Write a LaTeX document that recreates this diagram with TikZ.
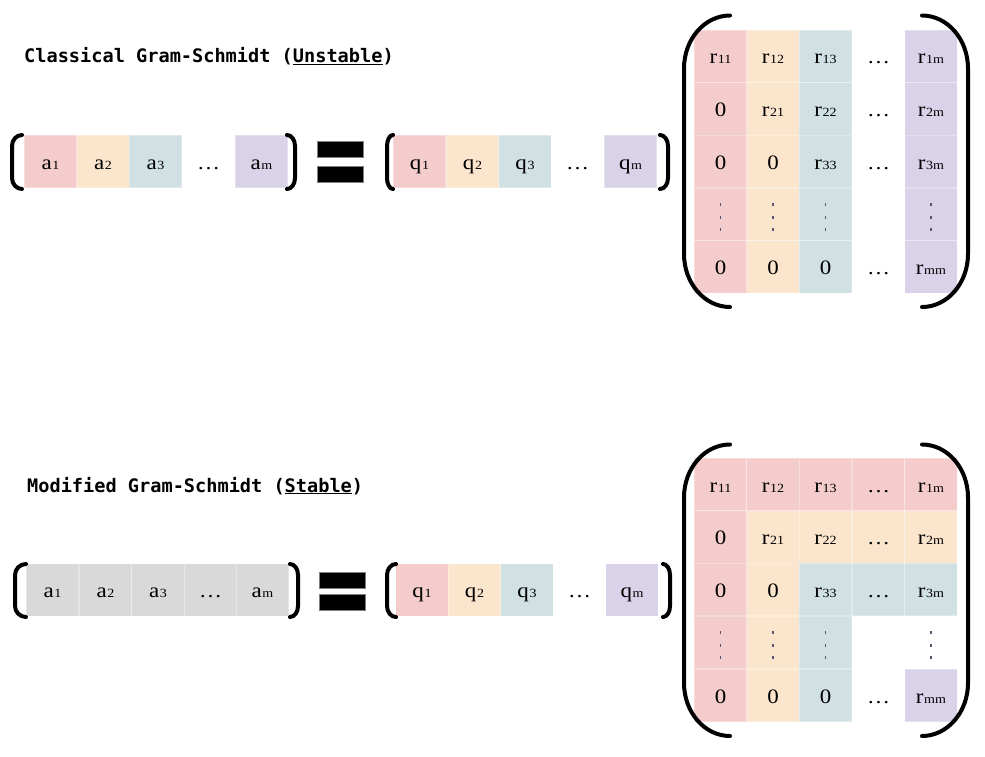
\documentclass[tikz,border=0pt]{standalone}
\usepackage{fontspec}
\setmainfont{Liberation Serif}
\newfontfamily\cellfont{Liberation Serif}[FakeStretch=1.12]
\newfontfamily\monob{DejaVu Sans Mono}
\definecolor{cr}{HTML}{F4CCCC}
\definecolor{co}{HTML}{FCE5CD}
\definecolor{cb}{HTML}{D0E0E3}
\definecolor{cp}{HTML}{D9D2E9}
\definecolor{cg}{HTML}{D9D9D9}
\definecolor{dotc}{HTML}{5A5570}
\newcommand\sbs[1]{{\fontsize{12.5}{12.5}\selectfont\kern0.6pt#1}}
% #1 end x, #2 extreme x, #3 top y, #4 bottom y, #5 corner height
\newcommand\brkpath[5]{%
  \draw[brk] (#1,#3) .. controls ({#1-0.552*(#1-#2)},#3) and (#2,{#3+0.448*#5}) .. (#2,{#3+#5})
    -- (#2,{#4-#5}) .. controls (#2,{#4-0.448*#5}) and ({#1-0.552*(#1-#2)},#4) .. (#1,#4);}
\newcommand\vdts[2]{%
  \fill[dotc] ({#1-0.6},{#2-11.2}) rectangle ++(1.2,2.5);
  \fill[dotc] ({#1-0.6},{#2+1.8}) rectangle ++(1.2,2.5);
  \fill[dotc] ({#1-0.6},{#2+13.8}) rectangle ++(1.2,2.5);}
\tikzset{
  cell/.style={draw=white, draw opacity=0.3, line width=0.8pt, minimum width=52.6pt,
    minimum height=52.6pt, inner sep=0pt, text height=15pt, text depth=0pt,
    font=\cellfont\fontsize{20.5}{20.5}\selectfont, anchor=center},
  blank/.style={cell, draw=none},
  brk/.style={line width=4pt, line cap=round},
  bar/.style={fill=black, draw=gray, line width=0.6pt, minimum width=46pt,
    minimum height=16pt, inner sep=0pt},
  title/.style={font=\monob\bfseries\fontsize{18.6}{20}\selectfont, anchor=base west, inner sep=0pt}
}
\begin{document}
\begin{tikzpicture}[x=1pt,y=-1pt]
\useasboundingbox (0,0) rectangle (985,757);
\fill[white] (0,0) rectangle (985,757);

% ---------------- Titles ----------------
\node[title] (t1) at (24,63) {Classical Gram-Schmidt (\underline{Unstable})};
\node[title] (t2) at (27,492) {Modified Gram-Schmidt (\underline{Stable})};

% ---------------- Top: a vector ----------------
\node[cell,fill=cr] (a1) at (50.5,161.5) {a\sbs{1}};
\node[cell,fill=co] (a2) at (103,161.5) {a\sbs{2}};
\node[cell,fill=cb] (a3) at (155.5,161.5) {a\sbs{3}};
\node[blank] (a4) at (208.5,161.5) {…};
\node[cell,fill=cp] (a5) at (261.5,161.5) {a\sbs{m}};
\brkpath{22}{12}{135}{189}{11}
\brkpath{287}{295}{135}{189}{11}

% equal sign
\node[bar] (e1a) at (340,149) {};
\node[bar] (e1b) at (340,174) {};

% ---------------- Top: q vector ----------------
\node[cell,fill=cr] (q1) at (419.5,161.5) {q\sbs{1}};
\node[cell,fill=co] (q2) at (472.5,161.5) {q\sbs{2}};
\node[cell,fill=cb] (q3) at (525,161.5) {q\sbs{3}};
\node[blank] (q4) at (577.5,161.5) {…};
\node[cell,fill=cp] (q5) at (630.5,161.5) {q\sbs{m}};
\brkpath{393}{387}{135}{189}{11}
\brkpath{660}{668}{135}{189}{11}

% ---------------- Top: R matrix ----------------
\node[cell,fill=cr] (A11) at (720.5,56.5) {r\sbs{11}};
\node[cell,fill=co] (A12) at (773,56.5) {r\sbs{12}};
\node[cell,fill=cb] (A13) at (825.5,56.5) {r\sbs{13}};
\node[blank] (A14) at (878.5,56.5) {…};
\node[cell,fill=cp] (A15) at (931,56.5) {r\sbs{1m}};

\node[cell,fill=cr] (A21) at (720.5,109) {0};
\node[cell,fill=co] (A22) at (773,109) {r\sbs{21}};
\node[cell,fill=cb] (A23) at (825.5,109) {r\sbs{22}};
\node[blank] (A24) at (878.5,109) {…};
\node[cell,fill=cp] (A25) at (931,109) {r\sbs{2m}};

\node[cell,fill=cr] (A31) at (720.5,161.5) {0};
\node[cell,fill=co] (A32) at (773,161.5) {0};
\node[cell,fill=cb] (A33) at (825.5,161.5) {r\sbs{33}};
\node[blank] (A34) at (878.5,161.5) {…};
\node[cell,fill=cp] (A35) at (931,161.5) {r\sbs{3m}};

\node[cell,fill=cr] (A41) at (720.5,214.5) {};
\node[cell,fill=co] (A42) at (773,214.5) {};
\node[cell,fill=cb] (A43) at (825.5,214.5) {};
\node[cell,fill=cp] (A45) at (931,214.5) {};

\node[cell,fill=cr] (A51) at (720.5,267) {0};
\node[cell,fill=co] (A52) at (773,267) {0};
\node[cell,fill=cb] (A53) at (825.5,267) {0};
\node[blank] (A54) at (878.5,267) {…};
\node[cell,fill=cp] (A55) at (931,267) {r\sbs{mm}};

\vdts{720.5}{214.5}
\vdts{773}{214.5}
\vdts{825.5}{214.5}
\vdts{931}{214.5}

\brkpath{730}{684}{15.5}{307}{53}
\brkpath{922}{968}{15.5}{307}{53}

% ---------------- Bottom: a vector ----------------
\node[cell,fill=cg] (b1) at (52.5,590) {a\sbs{1}};
\node[cell,fill=cg] (b2) at (105.5,590) {a\sbs{2}};
\node[cell,fill=cg] (b3) at (158,590) {a\sbs{3}};
\node[cell,fill=cg] (b4) at (210.5,590) {…};
\node[cell,fill=cg] (b5) at (262.5,590) {a\sbs{m}};
\brkpath{26}{15}{564}{617}{11}
\brkpath{290}{298}{564}{617}{11}

% equal sign
\node[bar] (e2a) at (342,580.5) {};
\node[bar] (e2b) at (342,602.5) {};

% ---------------- Bottom: q vector ----------------
\node[cell,fill=cr] (p1) at (422,590) {q\sbs{1}};
\node[cell,fill=co] (p2) at (474.5,590) {q\sbs{2}};
\node[cell,fill=cb] (p3) at (527,590) {q\sbs{3}};
\node[blank] (p4) at (579.5,590) {…};
\node[cell,fill=cp] (p5) at (632,590) {q\sbs{m}};
\brkpath{396}{387}{564}{617}{11}
\brkpath{663}{670}{564}{617}{11}

% ---------------- Bottom: R matrix ----------------
\node[cell,fill=cr] (B11) at (720.5,484.5) {r\sbs{11}};
\node[cell,fill=cr] (B12) at (773,484.5) {r\sbs{12}};
\node[cell,fill=cr] (B13) at (825.5,484.5) {r\sbs{13}};
\node[cell,fill=cr] (B14) at (878.5,484.5) {…};
\node[cell,fill=cr] (B15) at (931,484.5) {r\sbs{1m}};

\node[cell,fill=cr] (B21) at (720.5,537) {0};
\node[cell,fill=co] (B22) at (773,537) {r\sbs{21}};
\node[cell,fill=co] (B23) at (825.5,537) {r\sbs{22}};
\node[cell,fill=co] (B24) at (878.5,537) {…};
\node[cell,fill=co] (B25) at (931,537) {r\sbs{2m}};

\node[cell,fill=cr] (B31) at (720.5,589.5) {0};
\node[cell,fill=co] (B32) at (773,589.5) {0};
\node[cell,fill=cb] (B33) at (825.5,589.5) {r\sbs{33}};
\node[cell,fill=cb] (B34) at (878.5,589.5) {…};
\node[cell,fill=cb] (B35) at (931,589.5) {r\sbs{3m}};

\node[cell,fill=cr] (B41) at (720.5,642.5) {};
\node[cell,fill=co] (B42) at (773,642.5) {};
\node[cell,fill=cb] (B43) at (825.5,642.5) {};

\node[cell,fill=cr] (B51) at (720.5,695.5) {0};
\node[cell,fill=co] (B52) at (773,695.5) {0};
\node[cell,fill=cb] (B53) at (825.5,695.5) {0};
\node[blank] (B54) at (878.5,695.5) {…};
\node[cell,fill=cp] (B55) at (931,695.5) {r\sbs{mm}};

\vdts{720.5}{642.5}
\vdts{773}{642.5}
\vdts{825.5}{642.5}
\vdts{931}{642.5}

\brkpath{730}{684}{444.5}{736}{53}
\brkpath{922}{968}{444.5}{736}{53}
\end{tikzpicture}
\end{document}
